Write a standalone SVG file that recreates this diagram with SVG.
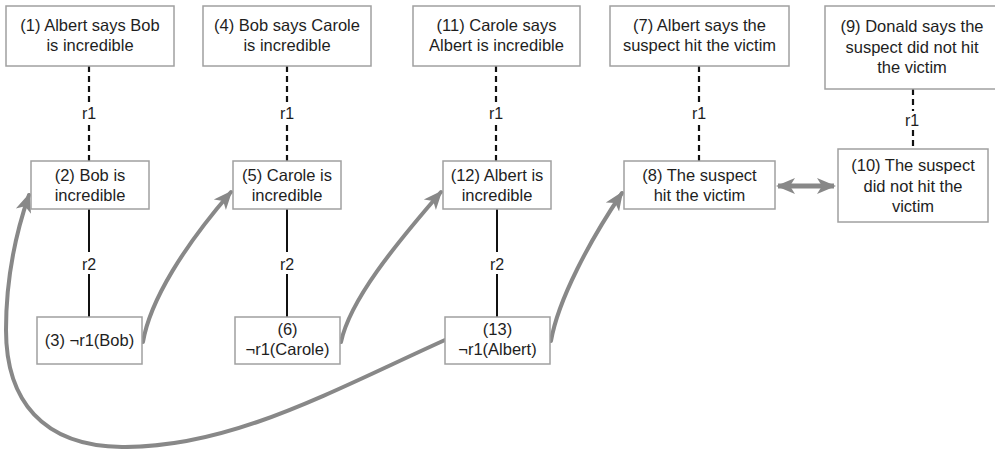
<svg xmlns="http://www.w3.org/2000/svg" width="995" height="449" viewBox="0 0 995 449">
<defs>
<style>
.box{fill:#fff;stroke:#a0a0a0;stroke-width:1.5}
.t{font-family:"Liberation Sans",Arial,sans-serif;font-size:16.5px;fill:#1e1e1e;text-anchor:middle}
.lbl{font-family:"Liberation Sans",Arial,sans-serif;font-size:16px;fill:#1e1e1e;text-anchor:middle}
.dash{stroke:#111;stroke-width:2.2;stroke-dasharray:6 4;fill:none}
.solid{stroke:#111;stroke-width:2;fill:none}
.arr{stroke:#888;stroke-width:4;fill:none;stroke-linecap:round}
.dbl{stroke:#888;stroke-width:5;fill:none}
</style>
<marker id="ah" markerUnits="userSpaceOnUse" markerWidth="20" markerHeight="18" refX="17" refY="9" orient="auto-start-reverse" viewBox="0 0 20 18">
<path d="M0,1 L19,9 L0,17 L5,9 z" fill="#888"/>
</marker>
</defs>
<rect width="995" height="449" fill="#fff"/>

<g id="connectors">
<line class="dash" x1="89" y1="66" x2="89" y2="104"/><line class="dash" x1="89" y1="125" x2="89" y2="161"/>
<text class="lbl" x="89" y="119">r1</text>
<line class="dash" x1="287" y1="66" x2="287" y2="104"/><line class="dash" x1="287" y1="125" x2="287" y2="161"/>
<text class="lbl" x="287" y="119">r1</text>
<line class="dash" x1="496" y1="66" x2="496" y2="104"/><line class="dash" x1="496" y1="125" x2="496" y2="161"/>
<text class="lbl" x="496" y="119">r1</text>
<line class="dash" x1="699" y1="66" x2="699" y2="104"/><line class="dash" x1="699" y1="125" x2="699" y2="161"/>
<text class="lbl" x="699" y="119">r1</text>
<line class="dash" x1="913" y1="89" x2="913" y2="111"/><line class="dash" x1="913" y1="130" x2="913" y2="149"/>
<text class="lbl" x="912" y="126">r1</text>

<line class="solid" x1="89" y1="209" x2="89" y2="252"/><line class="solid" x1="89" y1="274" x2="89" y2="317"/>
<text class="lbl" x="89" y="270">r2</text>
<line class="solid" x1="287" y1="209" x2="287" y2="252"/><line class="solid" x1="287" y1="274" x2="287" y2="317"/>
<text class="lbl" x="287" y="270">r2</text>
<line class="solid" x1="497" y1="209" x2="497" y2="252"/><line class="solid" x1="497" y1="274" x2="497" y2="317"/>
<text class="lbl" x="497" y="270">r2</text>

<path class="arr" marker-end="url(#ah)" d="M143,342 C150,300 185,245 231,192"/>
<path class="arr" marker-end="url(#ah)" d="M341,342 C350,300 395,245 441,192"/>
<path class="arr" marker-end="url(#ah)" d="M551,341 C558,300 590,240 622,193"/>
<path class="arr" marker-end="url(#ah)" d="M445,340 C330,392 230,448 122,447 C42,446 6,400 6,330 C6,280 14,238 29,195"/>
<path class="dbl" marker-start="url(#ah)" marker-end="url(#ah)" d="M778,186 L834,186"/>
</g>

<g id="n1"><rect class="box" x="6" y="6" width="168" height="60"/><text class="t" x="90" y="31">(1) Albert says Bob</text><text class="t" x="90" y="51">is incredible</text></g>
<g id="n4"><rect class="box" x="203" y="6" width="168" height="60"/><text class="t" x="287" y="31">(4) Bob says Carole</text><text class="t" x="287" y="51">is incredible</text></g>
<g id="n11"><rect class="box" x="413" y="6" width="167" height="60"/><text class="t" x="496.5" y="31">(11) Carole says</text><text class="t" x="496.5" y="51">Albert is incredible</text></g>
<g id="n7"><rect class="box" x="610" y="6" width="179" height="60"/><text class="t" x="699.5" y="31">(7) Albert says the</text><text class="t" x="699.5" y="51">suspect hit the victim</text></g>
<g id="n9"><rect class="box" x="825" y="6" width="175" height="83"/><text class="t" x="912" y="32">(9) Donald says the</text><text class="t" x="912" y="52.5">suspect did not hit</text><text class="t" x="912" y="73">the victim</text></g>

<g id="n2"><rect class="box" x="31" y="161" width="118" height="48"/><text class="t" x="90" y="181">(2) Bob is</text><text class="t" x="90" y="201">incredible</text></g>
<g id="n5"><rect class="box" x="233" y="161" width="108" height="48"/><text class="t" x="287" y="181">(5) Carole is</text><text class="t" x="287" y="201">incredible</text></g>
<g id="n12"><rect class="box" x="443" y="161" width="108" height="48"/><text class="t" x="497" y="181">(12) Albert is</text><text class="t" x="497" y="201">incredible</text></g>
<g id="n8"><rect class="box" x="624" y="161" width="151" height="48"/><text class="t" x="699.5" y="181">(8) The suspect</text><text class="t" x="699.5" y="201">hit the victim</text></g>
<g id="n10"><rect class="box" x="838" y="149" width="150" height="73"/><text class="t" x="913" y="171">(10) The suspect</text><text class="t" x="913" y="191.5">did not hit the</text><text class="t" x="913" y="212">victim</text></g>

<g id="n3"><rect class="box" x="37" y="317" width="105" height="47"/><text class="t" x="89.5" y="346">(3) ¬r1(Bob)</text></g>
<g id="n6"><rect class="box" x="235" y="317" width="105" height="47"/><text class="t" x="287.5" y="335">(6)</text><text class="t" x="287.5" y="355">¬r1(Carole)</text></g>
<g id="n13"><rect class="box" x="445" y="317" width="105" height="47"/><text class="t" x="497.5" y="335">(13)</text><text class="t" x="497.5" y="355">¬r1(Albert)</text></g>
</svg>
